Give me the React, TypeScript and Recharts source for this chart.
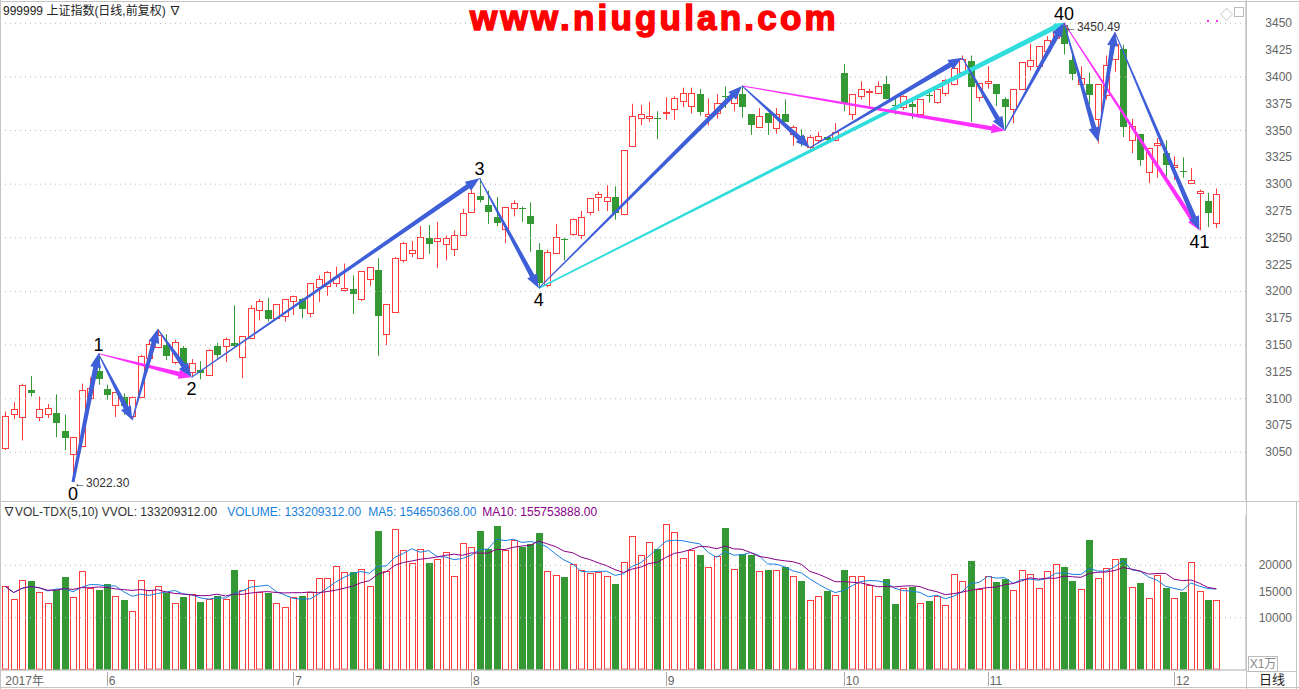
import React from 'react';
import { ComposedChart, Bar, Line, XAxis, YAxis, ReferenceLine, ReferenceDot } from 'recharts';

// daily OHLC of 上证指数, May 2017 - Dec 2017
const opens = [
  3054, 3086, 3083, 3108, 3083, 3086, 3087, 3070, 3048, 3056,
  3101, 3126, 3109, 3094, 3102, 3084, 3102, 3138, 3148, 3150,
  3134, 3147, 3125, 3127, 3122, 3149, 3149, 3152, 3139, 3157,
  3183, 3183, 3175, 3177, 3191, 3193, 3180, 3204, 3205, 3208,
  3201, 3202, 3193, 3212, 3220, 3160, 3181, 3229, 3236, 3231,
  3250, 3247, 3244, 3240, 3253, 3274, 3289, 3281, 3269, 3258,
  3278, 3278, 3270, 3239, 3206, 3236, 3249, 3254, 3253, 3274,
  3288, 3284, 3288, 3272, 3336, 3362, 3362, 3362, 3366, 3370,
  3378, 3373, 3384, 3364, 3366, 3382, 3376, 3384, 3365, 3353,
  3366, 3352, 3365, 3347, 3345, 3335, 3341, 3344, 3341, 3404,
  3365, 3382, 3386, 3385, 3393, 3374, 3372, 3375, 3365, 3383,
  3377, 3385, 3393, 3405, 3415, 3381, 3394, 3393, 3379, 3370,
  3389, 3410, 3410, 3424, 3436, 3448, 3416, 3393, 3393, 3361,
  3383, 3417, 3426, 3341, 3347, 3311, 3337, 3329, 3316, 3312,
  3301, 3292, 3284, 3264,
];
const highs = [
  3088, 3097, 3114, 3121, 3102, 3095, 3104, 3085, 3064, 3114,
  3120, 3142, 3113, 3106, 3105, 3102, 3141, 3155, 3165, 3160,
  3155, 3149, 3137, 3135, 3146, 3152, 3157, 3187, 3158, 3187,
  3193, 3194, 3188, 3193, 3196, 3194, 3208, 3215, 3219, 3223,
  3226, 3215, 3219, 3223, 3231, 3188, 3232, 3246, 3247, 3261,
  3262, 3265, 3252, 3257, 3277, 3295, 3305.5, 3294, 3288, 3279,
  3285, 3279, 3283, 3245, 3239, 3263, 3250, 3268, 3275, 3287,
  3293, 3299, 3298, 3332, 3375, 3374, 3377, 3368, 3381, 3382,
  3390, 3390, 3389, 3380, 3384, 3391, 3384, 3391.6, 3365, 3371,
  3366, 3371, 3379, 3355, 3351, 3346, 3349, 3344, 3357, 3412,
  3384, 3396, 3389, 3396, 3401, 3380, 3383, 3379, 3379, 3386,
  3390, 3398, 3416, 3420, 3420, 3394, 3410, 3393, 3381, 3389,
  3414, 3431, 3429, 3438, 3449, 3450.49, 3422, 3410, 3404, 3393,
  3420, 3441, 3430, 3361, 3347, 3334, 3343, 3341, 3326, 3325,
  3315, 3295, 3292, 3296,
];
const lows = [
  3052, 3081, 3061, 3102, 3079, 3082, 3064, 3052, 3022.3, 3056,
  3101, 3113, 3099, 3083, 3085, 3080, 3101, 3137, 3147, 3136,
  3132, 3130, 3120, 3118, 3121, 3137, 3134, 3148, 3119, 3157,
  3173, 3172, 3175, 3172, 3178, 3175, 3176, 3190, 3196, 3204,
  3200, 3179, 3191, 3205, 3140, 3150, 3181, 3227, 3232, 3231,
  3235, 3222, 3229, 3233, 3252, 3274, 3283, 3263, 3261, 3245,
  3270, 3265, 3237, 3203, 3204, 3235, 3229, 3252, 3249, 3271,
  3275, 3275, 3267, 3271, 3335, 3355, 3358, 3342, 3360, 3360,
  3372, 3366, 3364, 3355, 3361, 3371, 3368, 3362, 3346, 3353,
  3346, 3347, 3358, 3336, 3335, 3333, 3338, 3338, 3340, 3368,
  3360, 3379, 3373, 3385, 3379, 3365, 3369, 3361, 3365, 3376,
  3375, 3382, 3392, 3403, 3358, 3377, 3389, 3373, 3350, 3357,
  3388, 3406, 3410, 3422, 3435, 3421, 3397, 3393, 3374, 3338,
  3379, 3405, 3344, 3329, 3317, 3301, 3306, 3307, 3304, 3306,
  3301, 3257, 3260, 3259,
];
const closes = [
  3084, 3090, 3113, 3105, 3090, 3091, 3077, 3063, 3064, 3108,
  3110, 3118, 3103, 3106, 3093, 3102, 3140, 3151, 3159, 3140,
  3153, 3132, 3133, 3124, 3145, 3141, 3156, 3149, 3158, 3185,
  3191, 3174, 3188, 3193, 3196, 3184, 3208, 3212, 3218, 3213,
  3203, 3198, 3219, 3223, 3177, 3188, 3231, 3245, 3239, 3251,
  3244, 3250, 3250, 3253, 3273, 3292, 3285, 3274, 3264, 3279,
  3282, 3277, 3263, 3208, 3237, 3251, 3248, 3268, 3269, 3287,
  3291, 3288, 3273, 3332, 3364, 3365, 3364, 3361, 3367, 3380,
  3385, 3385, 3367, 3365, 3376, 3381, 3384, 3372, 3355, 3364,
  3357, 3365, 3358, 3353, 3341, 3344, 3345, 3341, 3349, 3375,
  3384, 3389, 3387, 3392, 3379, 3373, 3382, 3372, 3379, 3382,
  3389, 3397, 3408, 3417, 3391, 3394, 3396, 3384, 3372, 3389,
  3414, 3416, 3429, 3434, 3448, 3431, 3403, 3399, 3383, 3393,
  3411, 3431, 3353, 3354, 3323, 3334, 3338, 3318, 3318, 3311,
  3304, 3294, 3273, 3291,
];
// volume, unit 万
const volumes = [
  15989, 13632, 17263, 16944, 14842, 12867, 15352, 17709, 14014, 18983,
  15607, 15224, 16371, 14205, 13313, 11339, 17263, 15224, 15989, 14715,
  12867, 13887, 14587, 12931, 13504, 14078, 13632, 19046, 15352, 17263,
  14842, 14651, 12867, 12103, 14014, 14078, 14970, 17518, 17645, 19811,
  18664, 18664, 19365, 15989, 26499, 18919, 27009, 22996, 20511, 23187,
  20448, 21276, 22550, 18027, 24333, 23569, 26499, 23187, 27455, 22996,
  24907, 23442, 24015, 26117, 18983, 18218, 17709, 20320, 19046, 18537,
  18664, 17900, 16371, 20575, 25544, 21913, 24525, 23187, 27964, 26436,
  21467, 22868, 21913, 19747, 21785, 27073, 19365, 22104, 21913, 18983,
  19046, 19174, 19683, 17900, 17008, 13313, 14205, 15097, 14396, 19046,
  17900, 18027, 16180, 14078, 17326, 12549, 15734, 15798, 12740, 13186,
  14078, 12358, 18282, 16944, 20766, 15415, 18027, 16753, 17326, 15352,
  19046, 18409, 15734, 18855, 20320, 19620, 16944, 15543, 24779, 17645,
  19556, 21276, 21340, 15861, 16562, 13823, 18218, 15607, 13823, 14842,
  20703, 15161, 13313, 13321,
];

const monthTicks = [0, 12, 34, 55, 78, 99, 116, 138];
const monthLabels = ['2017年', '6', '7', '8', '9', '10', '11', '12'];
const priceTicks = [3050, 3075, 3100, 3125, 3150, 3175, 3200, 3225, 3250, 3275, 3300, 3325, 3350, 3375, 3400, 3425, 3450];
const priceGrid = [3050, 3100, 3150, 3200, 3250, 3300, 3350, 3400, 3450];
const volTicks = [10000, 15000, 20000];
const volGrid = [10000, 20000];

// wave marks: [from index, from price, to index, to price]
const blueWaves = [
  [8, 3022.3, 11, 3142],
  [11, 3142, 15, 3080],
  [15, 3080, 18, 3165],
  [18, 3165, 22, 3120],
  [22, 3120, 56, 3305.5],
  [56, 3305.5, 63, 3203],
  [63, 3203, 87, 3391.6],
  [87, 3391.6, 95, 3334],
  [95, 3334, 113, 3418],
  [113, 3418, 118, 3350],
  [118, 3350, 125, 3450.49],
  [125, 3450.49, 129, 3340],
  [129, 3340, 131, 3442],
  [131, 3442, 141, 3257],
];
const pinkWaves = [
  [11, 3142, 22, 3120],
  [87, 3391.6, 118, 3350],
  [125, 3450.49, 141, 3257],
];
const cyanWaves = [[63, 3203, 125, 3450.49]];
const waveLabels = [
  { i: 8, p: 3022.3, text: '0', below: true },
  { i: 11, p: 3142, text: '1', below: false },
  { i: 22, p: 3120, text: '2', below: true },
  { i: 56, p: 3305.5, text: '3', below: false },
  { i: 63, p: 3203, text: '4', below: true },
  { i: 125, p: 3450.49, text: '40', below: false },
  { i: 141, p: 3257, text: '41', below: true },
];
const extremes = [
  { i: 8, p: 3022.3, text: '3022.30', dy: 5 },
  { i: 125, p: 3450.49, text: '3450.49', dy: 8 },
];

const RED = '#ff3c3c';
const GREEN = '#349934';
const BLUE = '#3e5fd8';
const PINK = '#ff30ff';
const CYAN = '#30dcdc';
const FONT = '"Liberation Sans", "Noto Sans CJK SC", sans-serif';

const avg = (n: number, i: number) => {
  const s = Math.max(0, i - n + 1);
  let sum = 0;
  for (let k = s; k <= i; k++) sum += volumes[k];
  return sum / (i - s + 1);
};

const rows = Array.from({ length: 147 }, (_, i) =>
  i < opens.length
    ? { i, o: opens[i], h: highs[i], l: lows[i], c: closes[i], v: volumes[i], ma5: avg(5, i), ma10: avg(10, i) }
    : { i }
);

const Candle = (props: any) => {
  const { x, y, width, height, payload } = props;
  if (!payload || payload.o == null) return null;
  const { o, h, l, c } = payload;
  const up = c >= o;
  const color = up ? RED : GREEN;
  const top = Math.min(y, y + height);
  const hh = Math.abs(height);
  const k = h === l ? 0 : hh / (h - l);
  const cx = Math.round(x + width / 2) + 0.5;
  const bTop = Math.round(top + (h - Math.max(o, c)) * k) + 0.5;
  const bBot = Math.round(top + (h - Math.min(o, c)) * k) + 0.5;
  return (
    <g>
      <line x1={cx} x2={cx} y1={top} y2={top + hh} stroke={color} strokeWidth={1} />
      {up ? (
        <rect x={cx - 3} y={bTop} width={6} height={Math.max(bBot - bTop, 1)} fill="#fff" stroke={color} strokeWidth={1} />
      ) : (
        <rect x={cx - 3.5} y={bTop - 0.5} width={7} height={Math.max(bBot - bTop, 1)} fill={color} />
      )}
    </g>
  );
};

const VolBar = (props: any) => {
  const { x, y, width, height, payload } = props;
  if (!payload || payload.o == null) return null;
  const up = payload.c >= payload.o;
  const cx = Math.round(x + width / 2) + 0.5;
  const top = Math.round(y) + 0.5;
  const h = Math.max(height - 1, 1);
  return up ? (
    <rect x={cx - 3} y={top} width={6} height={h} fill="#fff" stroke={RED} strokeWidth={1} />
  ) : (
    <rect x={cx - 3.5} y={top - 0.5} width={7} height={h + 1} fill={GREEN} />
  );
};

const taper = (color: string, w0: number, w1: number, hw: number, hl: number) => (p: any) => {
  const { x1, y1, x2, y2 } = p;
  if ([x1, y1, x2, y2].some((v) => v == null || Number.isNaN(v))) return <g />;
  const dx = x2 - x1;
  const dy = y2 - y1;
  const len = Math.hypot(dx, dy) || 1;
  const ux = dx / len;
  const uy = dy / len;
  const nx = -uy;
  const ny = ux;
  const bx = x2 - ux * hl;
  const by = y2 - uy * hl;
  const pts = [
    [x1 + (nx * w0) / 2, y1 + (ny * w0) / 2],
    [bx + (nx * w1) / 2, by + (ny * w1) / 2],
    [bx + (nx * hw) / 2, by + (ny * hw) / 2],
    [x2, y2],
    [bx - (nx * hw) / 2, by - (ny * hw) / 2],
    [bx - (nx * w1) / 2, by - (ny * w1) / 2],
    [x1 - (nx * w0) / 2, y1 - (ny * w0) / 2],
  ];
  return <polygon points={pts.map((q) => q.join(',')).join(' ')} fill={color} />;
};

const rightTick = (p: any) => (
  <text x={p.x + 38} y={p.y} dy={4} textAnchor="end" fontSize={12} fontFamily={FONT} fill="#666">
    {p.payload.value}
  </text>
);

const monthTick = (p: any) => {
  const idx = monthTicks.indexOf(p.payload.value);
  const first = idx === 0;
  return (
    <g>
      {!first && <line x1={Math.round(p.x) + 0.5} x2={Math.round(p.x) + 0.5} y1={p.y - 6} y2={p.y + 8} stroke="#aaa" />}
      <text x={first ? p.x : p.x + 2} y={p.y + 7} fontSize={12} fontFamily={FONT} fill="#666">
        {monthLabels[idx]}
      </text>
    </g>
  );
};

const line = (style: React.CSSProperties) => <div style={{ position: 'absolute', background: '#c4c4c4', ...style }} />;

const App = () => {
  return (
    <div style={{ position: 'absolute', left: 0, top: 0, width: 1299, height: 689, background: '#fff', overflow: 'hidden', fontFamily: FONT }}>
      <div style={{ position: 'absolute', left: 0, top: 0 }}>
        <ComposedChart width={1299} height={502} data={rows} margin={{ top: 2, right: 0, bottom: 2, left: 1 }}>
          <XAxis dataKey="i" type="category" hide />
          <YAxis
            orientation="right"
            width={53}
            domain={[3005.5, 3469.9]}
            ticks={priceTicks}
            allowDataOverflow
            interval={0}
            tickLine={false}
            axisLine={{ stroke: '#aaa' }}
            tick={rightTick}
          />
          {priceGrid.map((g) => (
            <ReferenceLine key={'g' + g} y={g} stroke="#b8b8b8" strokeDasharray="1 4" />
          ))}
          <Bar dataKey={(d: any) => (d.o == null ? undefined : [d.l, d.h])} shape={Candle} isAnimationActive={false} />
          {cyanWaves.map((w, k) => (
            <ReferenceLine key={'c' + k} segment={[{ x: w[0], y: w[1] }, { x: w[2], y: w[3] }]} shape={taper(CYAN, 1.5, 5, 8, 10)} />
          ))}
          {pinkWaves.map((w, k) => (
            <ReferenceLine key={'p' + k} segment={[{ x: w[0], y: w[1] }, { x: w[2], y: w[3] }]} shape={taper(PINK, 1, 4.5, 10, 13)} />
          ))}
          {blueWaves.map((w, k) => (
            <ReferenceLine key={'b' + k} segment={[{ x: w[0], y: w[1] }, { x: w[2], y: w[3] }]} shape={taper(BLUE, k === 0 ? 3 : 1, 5, 11, 14)} />
          ))}
          {waveLabels.map((w) => (
            <ReferenceDot
              key={'l' + w.text}
              x={w.i}
              y={w.p}
              shape={(p: any) => (
                <text x={p.cx} y={p.cy + (w.below ? 18 : -3)} textAnchor="middle" fontSize={18} fontFamily={FONT} fill="#000">
                  {w.text}
                </text>
              )}
            />
          ))}
          {extremes.map((e) => (
            <ReferenceDot
              key={'e' + e.text}
              x={e.i}
              y={e.p}
              shape={(p: any) => (
                <text x={p.cx + 1} y={p.cy + e.dy} fontSize={12} fontFamily={FONT} fill="#333">
                  {'←' + e.text}
                </text>
              )}
            />
          ))}
        </ComposedChart>
      </div>

      <div style={{ position: 'absolute', left: 0, top: 503 }}>
        <ComposedChart width={1299} height={186} data={rows} margin={{ top: 12, right: 0, bottom: 0, left: 1 }}>
          <XAxis
            dataKey="i"
            type="category"
            ticks={monthTicks}
            interval={0}
            height={19}
            tickLine={false}
            axisLine={{ stroke: '#aaa' }}
            tick={monthTick}
          />
          <YAxis
            orientation="right"
            width={53}
            domain={[0, 29637]}
            ticks={volTicks}
            allowDataOverflow
            interval={0}
            tickLine={false}
            axisLine={{ stroke: '#aaa' }}
            tick={rightTick}
          />
          {volGrid.map((g) => (
            <ReferenceLine key={'vg' + g} y={g} stroke="#b8b8b8" strokeDasharray="1 4" />
          ))}
          <Bar dataKey="v" shape={VolBar} isAnimationActive={false} />
          <Line dataKey="ma5" stroke="#1a7fdc" strokeWidth={1} dot={false} type="linear" isAnimationActive={false} />
          <Line dataKey="ma10" stroke="#880088" strokeWidth={1} dot={false} type="linear" isAnimationActive={false} />
        </ComposedChart>
      </div>

      {line({ left: 0, top: 1, width: 1299, height: 1 })}
      {line({ left: 0, top: 0, width: 1, height: 689 })}
      {line({ left: 0, top: 501, width: 1299, height: 1 })}
      {line({ left: 1246, top: 0, width: 1, height: 689 })}
      {line({ left: 0, top: 687, width: 1299, height: 1 })}
      {line({ left: 1296, top: 502, width: 1, height: 187 })}
      {line({ left: 1246, top: 671, width: 51, height: 1 })}

      <div style={{ position: 'absolute', left: 3, top: 3, fontSize: 12, lineHeight: '16px', color: '#222', whiteSpace: 'nowrap' }}>
        999999 上证指数(日线,前复权) ∇
      </div>
      <div
        style={{
          position: 'absolute',
          left: 470,
          top: 0,
          fontSize: 35,
          lineHeight: '35px',
          fontWeight: 'bold',
          color: '#ff0000',
          letterSpacing: 3.2,
          WebkitTextStroke: '1.5px #ff0000',
          whiteSpace: 'nowrap',
        }}
      >
        www.niugulan.com
      </div>
      <div style={{ position: 'absolute', left: 1220, top: 4, fontSize: 13, color: '#bbb' }}>◇</div>
      <div style={{ position: 'absolute', left: 1234, top: 7, width: 8, height: 8, border: '1px solid #bbb' }} />
      <div style={{ position: 'absolute', left: 1207, top: 20, width: 2, height: 2, background: PINK }} />
      <div style={{ position: 'absolute', left: 1216, top: 20, width: 2, height: 2, background: PINK }} />

      <div style={{ position: 'absolute', left: 3, top: 504, fontSize: 12, lineHeight: '16px', whiteSpace: 'nowrap' }}>
        <span style={{ color: '#333', marginRight: 10 }}>∇VOL-TDX(5,10) VVOL: 133209312.00</span>
        <span style={{ color: '#1a7fdc', marginRight: 7 }}>VOLUME: 133209312.00</span>
        <span style={{ color: '#1a7fdc', marginRight: 6 }}>MA5: 154650368.00</span>
        <span style={{ color: '#880088' }}>MA10: 155753888.00</span>
      </div>
      <div
        style={{
          position: 'absolute',
          left: 1248,
          top: 656,
          width: 28,
          height: 14,
          border: '1px solid #bbb',
          fontSize: 12,
          lineHeight: '14px',
          color: '#888',
          textAlign: 'center',
        }}
      >
        X1万
      </div>
      <div style={{ position: 'absolute', left: 1259, top: 672, fontSize: 13, lineHeight: '15px', color: '#222' }}>日线</div>
    </div>
  );
};

export default App;
